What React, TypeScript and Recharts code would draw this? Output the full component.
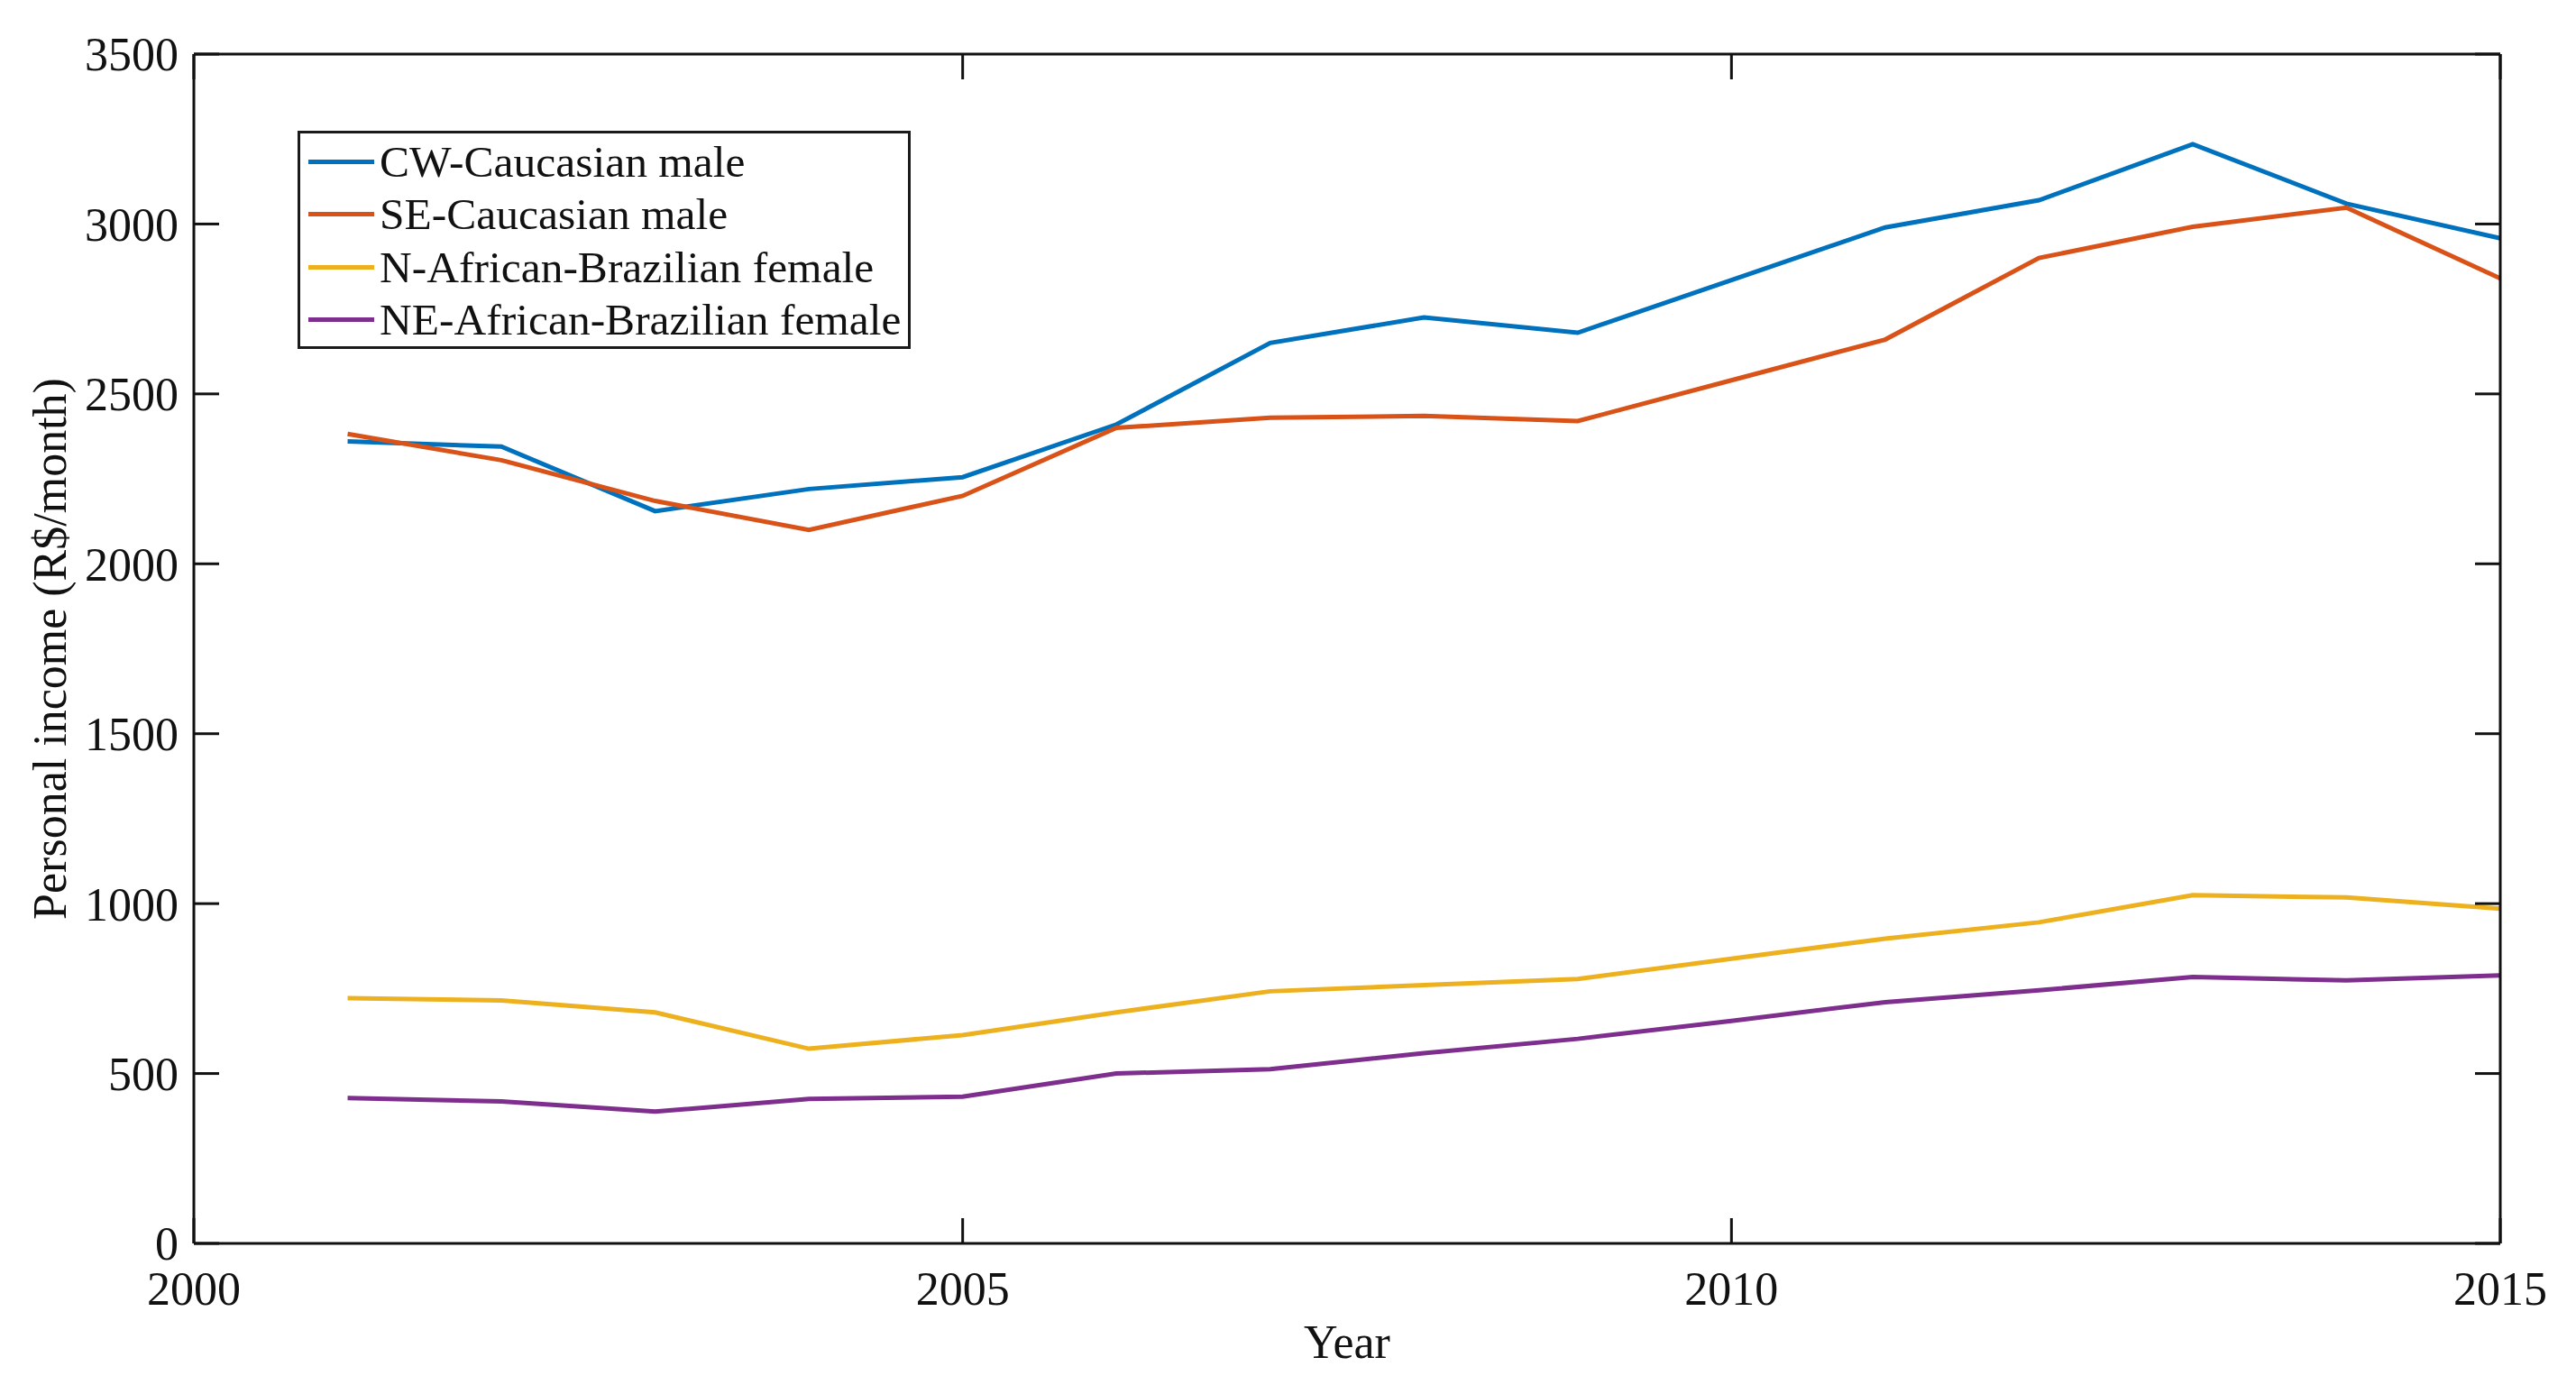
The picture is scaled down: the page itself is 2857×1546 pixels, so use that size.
import { LineChart, Line, XAxis, YAxis, Legend } from "recharts";

const years = [2001, 2002, 2003, 2004, 2005, 2006, 2007, 2008, 2009, 2010, 2011, 2012, 2013, 2014, 2015];
const cwCaucasianMale = [2360, 2345, 2155, 2220, 2255, 2410, 2650, 2725, 2680, 2835, 2990, 3070, 3235, 3060, 2958];
const seCaucasianMale = [2382, 2305, 2185, 2100, 2200, 2400, 2430, 2435, 2420, 2540, 2660, 2900, 2992, 3048, 2840];
const nAfricanFemale = [722, 715, 680, 573, 613, 680, 742, 760, 778, 838, 897, 945, 1025, 1018, 985];
const neAfricanFemale = [428, 418, 388, 425, 432, 500, 513, 560, 602, 655, 710, 745, 784, 774, 789];

const xTicks = [2000, 2005, 2010, 2015];
const yTicks = [0, 500, 1000, 1500, 2000, 2500, 3000, 3500];

const series = [
  { key: "cw", name: "CW-Caucasian male", color: "#0072BD" },
  { key: "se", name: "SE-Caucasian male", color: "#D95319" },
  { key: "n", name: "N-African-Brazilian female", color: "#EDB120" },
  { key: "ne", name: "NE-African-Brazilian female", color: "#7E2F8E" },
];

const data = years.map((year, i) => ({
  year,
  cw: cwCaucasianMale[i],
  se: seCaucasianMale[i],
  n: nAfricanFemale[i],
  ne: neAfricanFemale[i],
}));

const FONT = "'Liberation Serif', 'Times New Roman', serif";
const tickStyle = { fontSize: 52, fontFamily: FONT, fill: "#111" };
const axisLine = { stroke: "#111", strokeWidth: 3 };
const tickLine = { stroke: "#111", strokeWidth: 3 };
const noLabel = () => <g />;

// legend drawn in the series order (recharts sorts the payload by name)
function LegendBox() {
  return (
    <div
      style={{
        boxSizing: "border-box",
        width: 680,
        height: 242,
        border: "3px solid #1a1a1a",
        background: "#fff",
        padding: "2px 0 0 9px",
        fontFamily: FONT,
        fontSize: 49.5,
        color: "#111",
      }}
    >
      {series.map((s) => (
        <div key={s.key} style={{ display: "flex", alignItems: "center", height: 58.5, whiteSpace: "nowrap" }}>
          <span style={{ display: "inline-block", width: 73, height: 5, background: s.color, marginRight: 6 }} />
          <span style={{ lineHeight: 1 }}>{s.name}</span>
        </div>
      ))}
    </div>
  );
}

export default function App() {
  return (
    <div style={{ position: "absolute", left: 0, top: 0, width: 2857, height: 1546, background: "#fff" }}>
      <LineChart width={2857} height={1546} data={data} margin={{ top: 60, right: 84, bottom: 0, left: 0 }}>
        {/* labelled axes */}
        <XAxis
          xAxisId="b"
          dataKey="year"
          type="number"
          domain={[2000, 2015]}
          ticks={xTicks}
          interval={0}
          height={167}
          axisLine={axisLine}
          tickLine={false}
          tickMargin={25}
          tick={tickStyle}
          label={{ value: "Year", position: "insideBottom", offset: 40, style: { fontSize: 52, fontFamily: FONT, fill: "#111" } }}
        />
        <YAxis
          yAxisId="l"
          domain={[0, 3500]}
          ticks={yTicks}
          interval={0}
          width={215}
          axisLine={axisLine}
          tickLine={false}
          tickMargin={11}
          tick={tickStyle}
          label={{
            value: "Personal income (R$/month)",
            angle: -90,
            position: "insideLeft",
            offset: 55,
            style: { textAnchor: "middle", fontSize: 52, fontFamily: FONT, fill: "#111" },
          }}
        />
        {/* mirrored axes: inward ticks and the box */}
        <XAxis
          xAxisId="bm"
          mirror
          type="number"
          dataKey="year"
          domain={[2000, 2015]}
          allowDataOverflow
          ticks={xTicks}
          interval={0}
          height={1}
          axisLine={false}
          tickLine={tickLine}
          tickSize={28}
          tick={noLabel}
        />
        <XAxis
          xAxisId="t"
          orientation="top"
          mirror
          type="number"
          dataKey="year"
          domain={[2000, 2015]}
          allowDataOverflow
          ticks={xTicks}
          interval={0}
          height={1}
          axisLine={axisLine}
          tickLine={tickLine}
          tickSize={28}
          tick={noLabel}
        />
        <YAxis
          yAxisId="lm"
          mirror
          domain={[0, 3500]}
          allowDataOverflow
          ticks={yTicks}
          interval={0}
          width={1}
          axisLine={false}
          tickLine={tickLine}
          tickSize={28}
          tick={noLabel}
        />
        <YAxis
          yAxisId="r"
          orientation="right"
          mirror
          domain={[0, 3500]}
          allowDataOverflow
          ticks={yTicks}
          interval={0}
          width={1}
          axisLine={axisLine}
          tickLine={tickLine}
          tickSize={28}
          tick={noLabel}
        />
        <Legend
          layout="vertical"
          align="center"
          verticalAlign="middle"
          content={<LegendBox />}
          wrapperStyle={{ left: 330, top: 145, width: 680, height: 242 }}
        />
        {series.map((s) => (
          <Line
            key={s.key}
            xAxisId="b"
            yAxisId="l"
            dataKey={s.key}
            name={s.name}
            stroke={s.color}
            strokeWidth={5}
            dot={false}
            activeDot={false}
            type="linear"
            isAnimationActive={false}
          />
        ))}
      </LineChart>
    </div>
  );
}
